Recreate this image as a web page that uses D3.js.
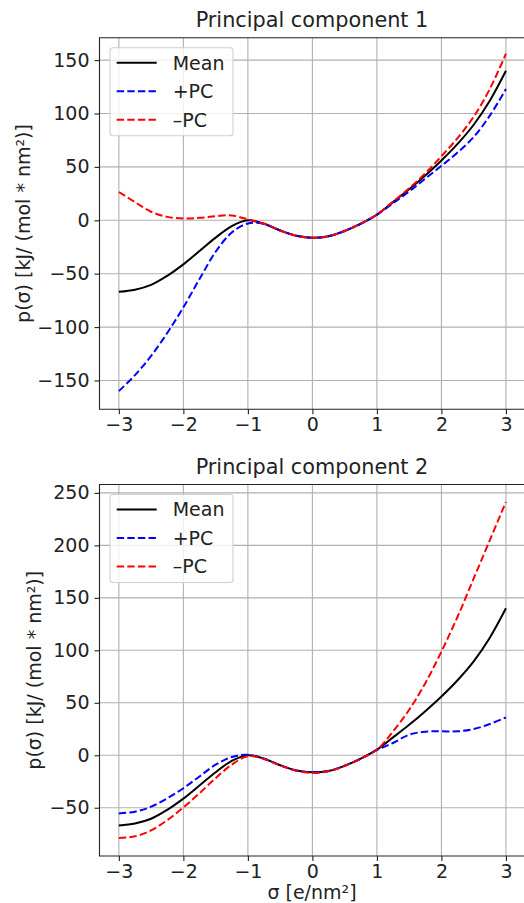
<!DOCTYPE html>
<html>
<head>
<meta charset="utf-8">
<script src="https://cdn.jsdelivr.net/npm/d3@7"></script>
<style>
  html, body { margin: 0; padding: 0; background: #ffffff; }
  svg { display: block; font-family: "DejaVu Sans", sans-serif; }
</style>
</head>
<body>
<svg id="chart" width="524" height="903"></svg>
<script>
// Surface charge density grid, e/nm²
const sigma = [-3, -2.75, -2.5, -2.25, -2, -1.75, -1.5, -1.25, -1, -0.75, -0.5, -0.25,
               0, 0.25, 0.5, 0.75, 1, 1.25, 1.5, 1.75, 2, 2.25, 2.5, 2.75, 3];

// Mean sigma potential, kJ/(mol * nm²)
const meanCurve = [-67, -65, -60.5, -52, -41.3, -28.8, -16.2, -5.4, 0, -3.3, -9.5, -14.5,
                   -16.3, -15, -10, -3.2, 5.3, 17, 29, 42, 56, 71.5, 89.5, 112, 140];

// Mean ± first principal component
const pc1Plus = [-160, -145, -127, -105.5, -81.5, -55, -29.5, -11.5, -3, -3.4, -9.5, -14.5,
                 -16.3, -15, -10, -3.3, 5.1, 16, 27, 39, 51, 63.5, 78, 98, 123];
const pc1Minus = [26.5, 17, 8, 3.2, 1.7, 2.3, 3.8, 4.6, 0.8, -3.3, -9.5, -14.5,
                  -16.3, -15, -10, -3.2, 5.4, 17.5, 30, 44, 60, 77, 97, 123, 156];

// Mean ± second principal component
const pc2Plus = [-55.4, -53.8, -49, -41, -31.4, -20.2, -9, -1.6, 0.5, -3.3, -9.5, -14.5,
                 -16.3, -15, -10, -3.2, 5, 11.7, 19.6, 22.5, 22.8, 22.8, 25, 29.8, 36];
const pc2Minus = [-78.8, -77.2, -71.5, -61.9, -49.7, -36.2, -21.8, -9, -1, -3.5, -9.7, -14.8,
                  -16.8, -15.3, -10.2, -3.3, 5.2, 22.8, 43.4, 68.7, 98.8, 132, 168.5, 205, 241.4];

const xTicks = [-3, -2, -1, 0, 1, 2, 3];
const pc1YTicks = [-150, -100, -50, 0, 50, 100, 150];
const pc2YTicks = [-50, 0, 50, 100, 150, 200, 250];
const legendLabels = ["Mean", "+PC", "\u2013PC"];
const panelTitles = ["Principal component 1", "Principal component 2"];
const yLabel = "p(\u03c3) [kJ/ (mol * nm\u00b2)]";
const xLabel = "\u03c3 [e/nm\u00b2]";

const svg = d3.select("#chart");
svg.append("rect").attr("width", 524).attr("height", 903).attr("fill", "#ffffff");

const fontTick = 19;
const fontTitle = 20.8;
const gridColor = "#b0b0b0";

const x = d3.scaleLinear().domain([-3.3, 3.3]).range([99.5, 525.3]);

const styles = [
  { color: "#000000", dash: null },
  { color: "#0000ff", dash: "7.4,3.2" },
  { color: "#ff0000", dash: "7.4,3.2" }
];

function drawPanel(cfg) {
  const y = d3.scaleLinear().domain(cfg.yDomain).range([cfg.bottom, cfg.top]);
  const g = svg.append("g");

  // grid
  g.append("g").selectAll("line").data(xTicks).join("line")
    .attr("x1", d => x(d)).attr("x2", d => x(d))
    .attr("y1", cfg.top).attr("y2", cfg.bottom)
    .attr("stroke", gridColor).attr("stroke-width", 1.1);
  g.append("g").selectAll("line").data(cfg.yTicks).join("line")
    .attr("x1", x.range()[0]).attr("x2", x.range()[1])
    .attr("y1", d => y(d)).attr("y2", d => y(d))
    .attr("stroke", gridColor).attr("stroke-width", 1.1);

  // curves
  const line = d3.line()
    .x((d, i) => x(sigma[i]))
    .y(d => y(d))
    .curve(d3.curveCatmullRom.alpha(0.5));
  cfg.series.forEach((s, i) => {
    g.append("path")
      .attr("d", line(s))
      .attr("fill", "none")
      .attr("stroke", styles[i].color)
      .attr("stroke-width", 2)
      .attr("stroke-dasharray", styles[i].dash);
  });

  // axes
  const xAxis = d3.axisBottom(x).tickValues(xTicks).tickSize(5).tickSizeOuter(0)
    .tickPadding(4).tickFormat(d3.format("d"));
  const yAxis = d3.axisLeft(y).tickValues(cfg.yTicks).tickSize(5).tickSizeOuter(0)
    .tickPadding(5).tickFormat(d3.format("d"));

  const gx = g.append("g").attr("transform", `translate(0,${cfg.bottom})`).call(xAxis);
  const gy = g.append("g").attr("transform", `translate(${x.range()[0]},0)`).call(yAxis);
  [gx, gy].forEach(a => {
    a.select(".domain").remove();
    a.selectAll(".tick line").attr("stroke", "#222").attr("stroke-width", 1.1);
    a.selectAll(".tick text").attr("fill", "#222").attr("font-size", fontTick)
      .attr("font-family", "DejaVu Sans");
  });
  gx.selectAll(".tick text").attr("dy", null).attr("y", 22);

  // spines
  g.append("path")
    .attr("d", `M${x.range()[1]},${cfg.bottom}H${x.range()[0]}V${cfg.top}H${x.range()[1]}`)
    .attr("fill", "none").attr("stroke", "#222").attr("stroke-width", 1.1);

  // title
  g.append("text").attr("x", 312).attr("y", cfg.top - 10.7)
    .attr("text-anchor", "middle").attr("font-size", fontTitle).attr("fill", "#222")
    .text(cfg.title);

  // y label
  g.append("text")
    .attr("transform", `translate(${cfg.labelX},${(cfg.top + cfg.bottom) / 2}) rotate(-90)`)
    .attr("text-anchor", "middle").attr("font-size", fontTick).attr("fill", "#222")
    .text(yLabel);

  // legend
  const lx = 110, ly = cfg.top + 10, lw = 123, lh = 88;
  const lg = g.append("g");
  lg.append("rect").attr("x", lx).attr("y", ly).attr("width", lw).attr("height", lh)
    .attr("rx", 3).attr("fill", "#ffffff").attr("fill-opacity", 0.8)
    .attr("stroke", "#d0d0d0").attr("stroke-width", 1.1);
  legendLabels.forEach((lab, i) => {
    const cy = ly + 15 + i * 28.5;
    lg.append("line").attr("x1", lx + 6.7).attr("x2", lx + 46.7)
      .attr("y1", cy).attr("y2", cy)
      .attr("stroke", styles[i].color).attr("stroke-width", 2)
      .attr("stroke-dasharray", styles[i].dash);
    lg.append("text").attr("x", lx + 62.7).attr("y", cy + 6.8)
      .attr("font-size", fontTick).attr("fill", "#222").text(lab);
  });

  if (cfg.xLabel) {
    g.append("text").attr("x", 312).attr("y", cfg.bottom + 43)
      .attr("text-anchor", "middle").attr("font-size", fontTick).attr("fill", "#222")
      .text(xLabel);
  }
}

drawPanel({
  top: 37.7, bottom: 409.3, yDomain: [-177, 171], yTicks: pc1YTicks,
  series: [meanCurve, pc1Plus, pc1Minus], title: panelTitles[0], labelX: 29.5
});
drawPanel({
  top: 484.5, bottom: 856, yDomain: [-96, 258], yTicks: pc2YTicks,
  series: [meanCurve, pc2Plus, pc2Minus], title: panelTitles[1], labelX: 41, xLabel: true
});
</script>
</body>
</html>
